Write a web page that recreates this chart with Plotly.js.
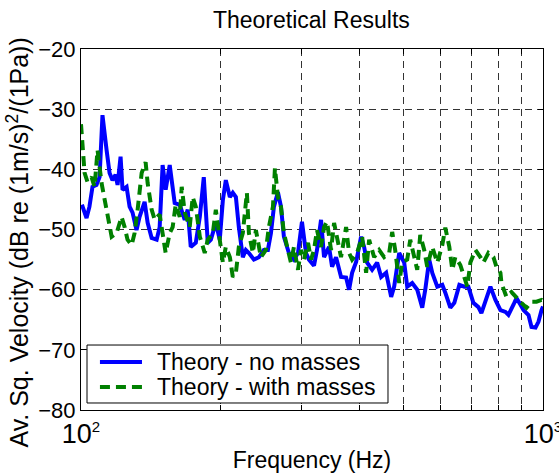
<!DOCTYPE html>
<html>
<head>
<meta charset="utf-8">
<script src="https://cdn.plot.ly/plotly-3.0.1.min.js"></script>
<style>html,body{margin:0;padding:0;background:#fff;}#chart{width:559px;height:474px;}</style>
</head>
<body>
<div id="chart"></div>
<script>
var freqNoMasses = [100.0,100.8,102.8,104.3,105.9,108.0,109.7,111.3,113.6,115.3,117.0,118.8,120.0,121.8,123.0,125.5,127.4,129.3,131.9,133.9,137.3,139.4,142.2,145.8,148.0,150.2,152.5,155.6,159.5,163.6,167.7,170.2,172.8,177.2,180.8,184.4,188.1,191.0,195.8,199.7,202.8,205.8,210.0,213.1,216.4,219.6,224.0,227.4,230.9,236.7,242.7,248.8,253.8,257.7,261.6,266.8,270.9,274.9,281.9,289.0,294.9,300.8,306.9,311.5,319.4,324.2,330.8,335.8,344.3,349.5,356.5,365.5,374.8,380.4,386.2,394.0,403.9,410.0,416.2,426.7,437.5,446.4,457.6,469.2,476.3,488.4,500.7,508.3,521.1,534.3,547.8,556.1,567.3,575.9,590.5,605.4,614.5,630.1,642.8,659.1,675.8,689.3,706.8,724.7,735.6,750.4,769.4,788.9,808.9,829.3,841.8,863.1,876.2,893.9,907.4,930.3,944.3,963.4,978.0,992.8,1000];
var dbNoMasses = [-46.3,-46.2,-48.1,-46.2,-42.9,-42.6,-41.3,-31.0,-36.8,-40.6,-41.8,-40.9,-42.6,-37.9,-43.4,-42.9,-46.2,-47.2,-50.1,-47.9,-45.4,-48.9,-51.4,-51.7,-49.6,-39.3,-43.4,-39.3,-45.6,-45.9,-48.4,-46.7,-52.9,-52.2,-47.9,-41.3,-52.2,-51.7,-48.9,-51.7,-45.1,-41.8,-44.6,-43.9,-44.6,-49.6,-54.6,-53.4,-53.9,-55.0,-54.6,-53.4,-53.4,-50.6,-46.2,-43.8,-46.2,-51.2,-53.9,-55.0,-53.9,-48.7,-53.9,-55.0,-56.0,-53.4,-48.4,-54.6,-52.9,-56.2,-54.6,-57.9,-58.0,-60.0,-57.2,-55.4,-51.2,-52.9,-55.5,-56.7,-55.5,-57.9,-57.2,-61.2,-59.5,-53.9,-55.5,-59.5,-58.9,-60.0,-63.0,-60.0,-55.0,-57.2,-59.5,-59.2,-60.5,-63.0,-62.2,-59.2,-59.5,-59.5,-62.2,-62.9,-63.9,-62.0,-59.5,-61.7,-63.4,-63.7,-64.2,-62.5,-61.4,-62.5,-63.4,-64.2,-66.2,-66.3,-65.3,-63.4,-62.8];

var freqWithMasses = [100.0,100.8,101.8,103.3,105.4,107.0,108.6,110.8,112.5,114.2,116.5,119.4,122.4,124.3,126.1,128.7,130.6,132.6,135.3,138.0,139.4,142.2,144.4,148.0,150.2,152.5,155.6,157.9,160.3,163.6,165.2,167.7,171.9,174.5,177.2,180.8,185.3,188.1,192.9,195.8,199.7,202.8,205.8,210.0,213.1,216.4,219.6,224.0,228.6,230.9,235.5,239.1,245.1,251.3,255.1,260.3,262.9,266.8,270.9,274.9,280.5,284.7,289.0,294.9,299.3,303.8,310.0,314.7,319.4,324.2,330.8,335.8,340.8,347.7,353.0,358.3,365.5,374.8,380.4,386.2,395.9,406.0,414.1,420.4,431.0,441.9,453.0,464.6,471.6,478.7,488.4,495.7,508.3,516.0,526.3,534.3,542.3,553.2,561.6,575.9,590.5,605.4,614.5,626.9,636.4,646.0,662.3,675.8,685.9,696.3,713.9,731.9,742.9,761.7,781.1,792.9,808.9,812.9,833.4,854.5,876.2,898.3,920.9,944.3,968.2,992.8,1000];
var dbWithMasses = [-32.5,-36.8,-40.6,-42.1,-41.3,-42.9,-36.8,-42.3,-45.1,-48.4,-51.2,-50.6,-47.9,-49.6,-51.7,-52.6,-50.6,-46.7,-40.6,-38.8,-42.3,-46.7,-48.4,-47.5,-51.2,-53.9,-50.6,-49.6,-45.9,-47.9,-42.9,-47.2,-49.6,-44.6,-46.2,-51.2,-53.9,-51.7,-50.6,-46.7,-51.7,-55.5,-52.9,-54.6,-57.9,-57.2,-52.9,-50.6,-43.9,-50.6,-53.9,-50.1,-54.6,-53.4,-49.6,-46.2,-39.8,-44.6,-46.2,-50.6,-53.4,-55.5,-52.9,-56.7,-53.4,-55.0,-52.2,-55.0,-53.4,-50.1,-52.9,-49.6,-48.7,-53.4,-48.9,-51.2,-54.6,-49.6,-53.9,-55.0,-53.9,-51.2,-57.2,-51.7,-54.6,-53.4,-54.6,-53.9,-50.4,-53.4,-58.9,-55.5,-55.0,-51.7,-55.0,-56.7,-50.9,-53.4,-56.2,-52.9,-55.5,-52.6,-49.7,-52.9,-56.7,-54.6,-55.9,-57.9,-59.5,-55.5,-53.4,-54.6,-55.5,-53.9,-54.6,-56.2,-57.2,-58.9,-61.2,-60.4,-61.4,-62.2,-63.0,-62.0,-62.0,-61.7,-61.9];

var seriesNames = ['Theory - no masses', 'Theory - with masses'];
var seriesColors = ['#0000ff', '#008000'];
var seriesDash = ['solid', '10px,6px'];
var xTickVals = [100,200,300,400,500,600,700,800,900,1000];
var xTickText = ['10<sup><span style="font-size:15px">2</span></sup>','','','','','','','','','10<sup><span style="font-size:15px">3</span></sup>'];
var yTickVals = [-80,-70,-60,-50,-40,-30,-20];
var yTitleText = 'Av. Sq. Velocity (dB re (1m/s)<sup>2</sup>/(1Pa))';

var FONT = '"Liberation Sans", Arial, sans-serif';
var LW = 4;

var traces = [
  {x: freqNoMasses, y: dbNoMasses, type: 'scatter', mode: 'lines', name: seriesNames[0],
   line: {color: seriesColors[0], width: LW, dash: seriesDash[0]}},
  {x: freqWithMasses, y: dbWithMasses, type: 'scatter', mode: 'lines', name: seriesNames[1],
   line: {color: seriesColors[1], width: LW, dash: seriesDash[1]}}
];

// Compact MATLAB-style legend box (paper coordinates of the plot area)
var legBox = {x0: 0.013, x1: 0.6645, y0: 0.0194, y1: 0.180};
var legRowsY = [0.133, 0.0637];
var legSample = {x0: 0.041, x1: 0.132};
var legTextX = 0.160;

var shapes = [{type: 'rect', xref: 'paper', yref: 'paper', x0: legBox.x0, x1: legBox.x1, y0: legBox.y0, y1: legBox.y1,
               fillcolor: '#ffffff', line: {color: '#000', width: 1}, layer: 'above'}];
var annotations = [];
for (var i = 0; i < seriesNames.length; i++) {
  shapes.push({type: 'line', xref: 'paper', yref: 'paper', x0: legSample.x0, x1: legSample.x1,
               y0: legRowsY[i], y1: legRowsY[i], layer: 'above',
               line: {color: seriesColors[i], width: LW, dash: seriesDash[i]}});
  annotations.push({xref: 'paper', yref: 'paper', x: legTextX, y: legRowsY[i], xanchor: 'left', yanchor: 'middle',
                    showarrow: false, text: seriesNames[i], font: {family: FONT, size: 23, color: '#000'}});
}
// y-axis title
annotations.push({xref: 'paper', yref: 'paper', x: -0.137, y: 0.463, xanchor: 'center', yanchor: 'middle',
                  textangle: -90, showarrow: false, text: yTitleText,
                  font: {family: FONT, size: 25, color: '#000'}});

var layout = {
  width: 559, height: 474,
  margin: {l: 81, r: 16, t: 49, b: 64, pad: 0},
  paper_bgcolor: '#ffffff', plot_bgcolor: '#ffffff',
  font: {family: FONT, size: 22, color: '#000'},
  title: {text: 'Theoretical Results', font: {family: FONT, size: 23, color: '#000'},
          x: 0.557, xanchor: 'center', y: 0.958, yanchor: 'middle'},
  showlegend: false,
  shapes: shapes,
  annotations: annotations,
  xaxis: {type: 'log', range: [2, 3], autorange: false,
          tickmode: 'array', tickvals: xTickVals, ticktext: xTickText,
          ticks: 'inside', ticklen: 5, tickcolor: '#000', tickwidth: 1,
          showline: true, linecolor: '#000', linewidth: 1, mirror: 'ticks',
          showgrid: true, gridcolor: '#333', griddash: '7px,5px', gridwidth: 1,
          zeroline: false, ticklabeloverflow: 'allow',
          tickfont: {family: FONT, size: 27, color: '#000'},
          title: {text: 'Frequency (Hz)', font: {family: FONT, size: 23, color: '#000'}, standoff: 3}},
  yaxis: {range: [-80, -20], autorange: false,
          tickmode: 'array', tickvals: yTickVals,
          ticks: 'inside', ticklen: 5, tickcolor: '#000', tickwidth: 1,
          showline: true, linecolor: '#000', linewidth: 1, mirror: 'ticks',
          showgrid: true, gridcolor: '#333', griddash: '7px,5px', gridwidth: 1,
          zeroline: false, tickfont: {family: FONT, size: 22, color: '#000'}}
};

Plotly.newPlot('chart', traces, layout, {displayModeBar: false, staticPlot: true});
</script>
</body>
</html>
